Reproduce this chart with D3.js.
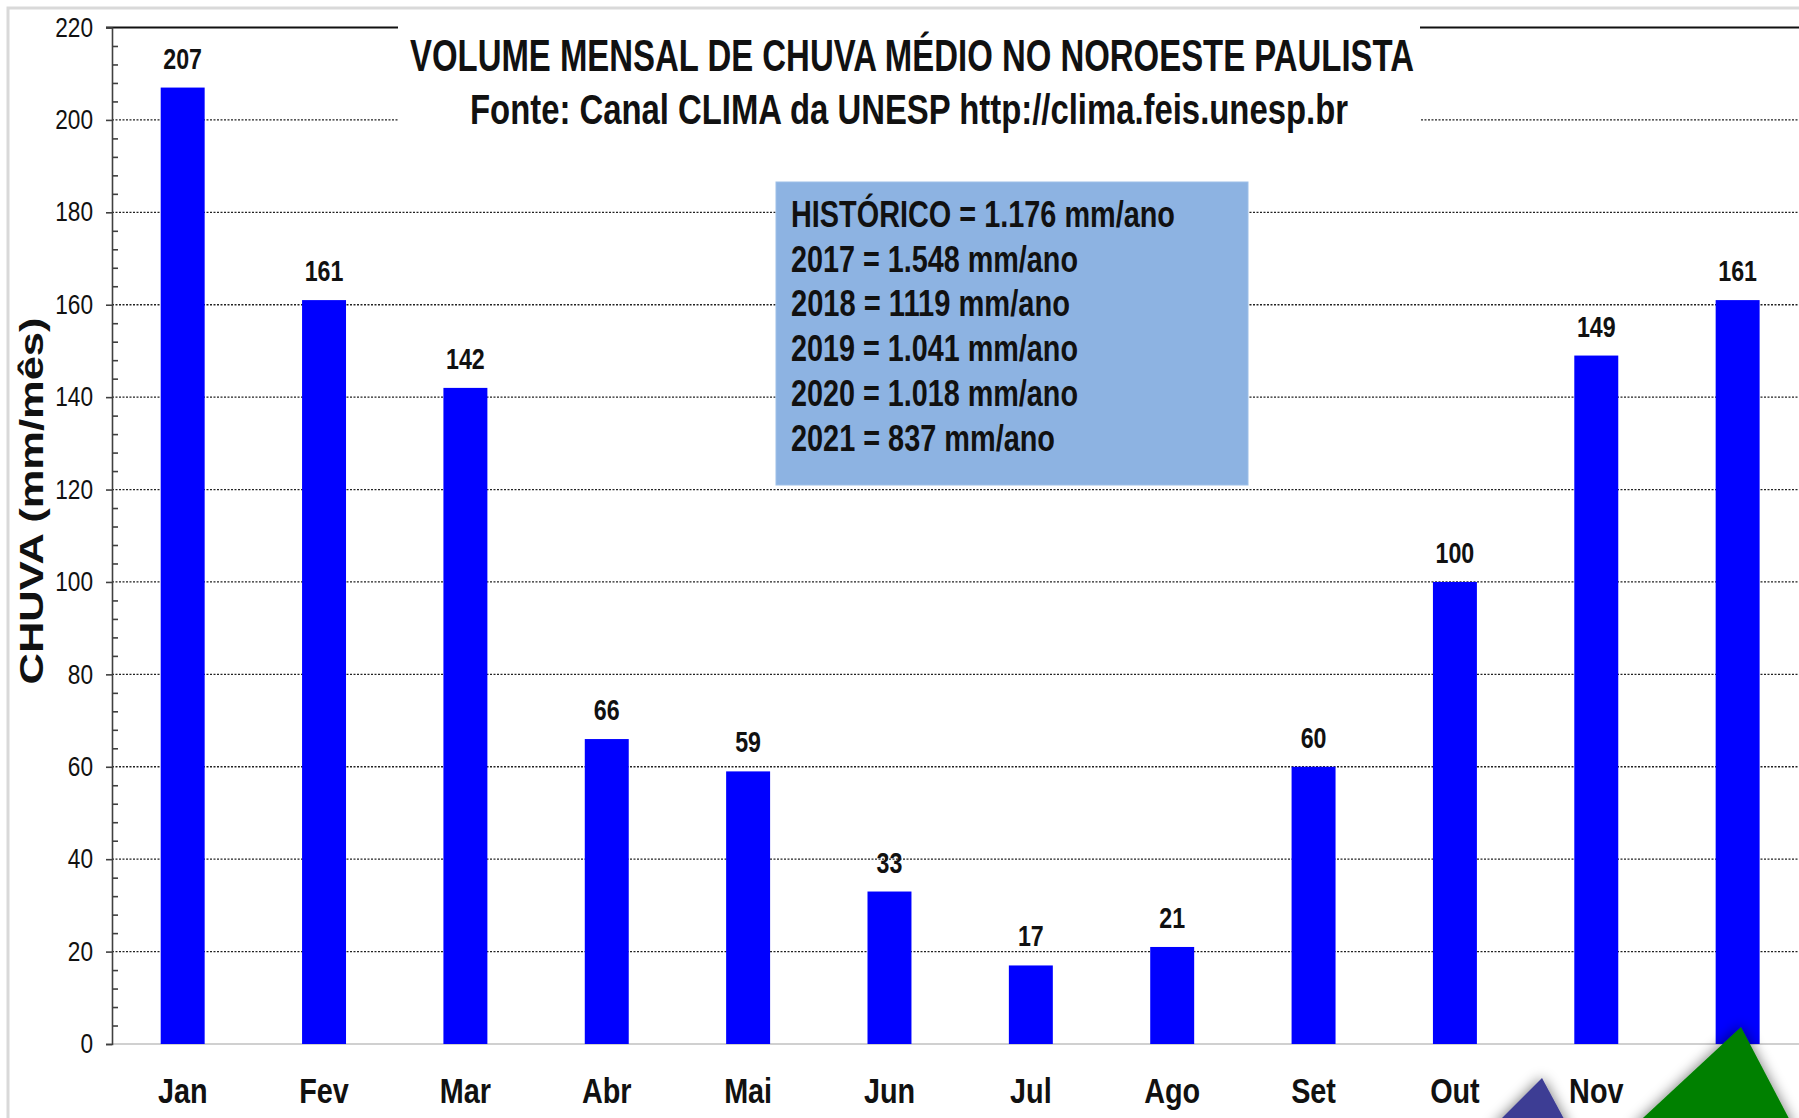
<!DOCTYPE html>
<html>
<head>
<meta charset="utf-8">
<script src="https://cdn.jsdelivr.net/npm/d3@7"></script>
<style>
  body { margin: 0; background: #fff; overflow: hidden; }
  .narrow { font-family: "Liberation Sans Narrow", "Arial Narrow", "Liberation Sans", Arial, sans-serif; }
</style>
</head>
<body>
<div id="chart"></div>
<script>
const months = ["Jan", "Fev", "Mar", "Abr", "Mai", "Jun", "Jul", "Ago", "Set", "Out", "Nov", "Dez"];
const monthLabels = ["Jan", "Fev", "Mar", "Abr", "Mai", "Jun", "Jul", "Ago", "Set", "Out", "Nov", ""];
const rain = [207, 161, 142, 66, 59, 33, 17, 21, 60, 100, 149, 161];
const yTicks = [0, 20, 40, 60, 80, 100, 120, 140, 160, 180, 200, 220];
const infoLines = [
  "HISTÓRICO = 1.176 mm/ano",
  "2017 = 1.548 mm/ano",
  "2018 = 1119 mm/ano",
  "2019 = 1.041 mm/ano",
  "2020 = 1.018 mm/ano",
  "2021 = 837 mm/ano"
];
const infoWidths = [384, 287, 279, 287, 287, 264];

const W = 1799, H = 1118;

//plot dimensions
const pLeft = 112;
const pTop = 27.5;
const pBottom = 1044;
const step = 141.36;
const pRight = pLeft + step * 12;
const squeeze = 0.8; //narrow look, no condensed font installed

const svg = d3.select("#chart")
  .append("svg")
  .attr("width", W)
  .attr("height", H);

//shadow for the corner triangles
const defs = svg.append("defs");
const f = defs.append("filter").attr("id", "shadow")
  .attr("x", "-30%").attr("y", "-30%").attr("width", "160%").attr("height", "160%");
f.append("feGaussianBlur").attr("in", "SourceAlpha").attr("stdDeviation", 7).attr("result", "b");
f.append("feComponentTransfer").attr("in", "b").attr("result", "s")
  .append("feFuncA").attr("type", "linear").attr("slope", 0.55);
const fm = f.append("feMerge");
fm.append("feMergeNode").attr("in", "s");
fm.append("feMergeNode").attr("in", "SourceGraphic");

//outer frame
svg.append("path")
  .attr("d", `M8,${H} L8,8 L${W},8`)
  .attr("fill", "none")
  .attr("stroke", "#d9d9d9")
  .attr("stroke-width", 3);

const x = d3.scaleBand()
  .domain(months)
  .range([pLeft, pRight])
  .paddingInner(0.689)
  .paddingOuter(0.3445);

const y = d3.scaleLinear()
  .domain([0, 220])
  .range([pBottom, pTop]);

//grid lines
svg.append("g")
  .selectAll("line")
  .data(yTicks.filter((d) => d > 0 && d < 220))
  .join("line")
  .attr("x1", pLeft)
  .attr("x2", W)
  .attr("y1", (d) => y(d))
  .attr("y2", (d) => y(d))
  .attr("stroke", "#222")
  .attr("stroke-width", 1.3)
  .attr("stroke-dasharray", "2,1.5");

//top solid line
svg.append("line")
  .attr("x1", pLeft - 6).attr("x2", W)
  .attr("y1", y(220)).attr("y2", y(220))
  .attr("stroke", "#111").attr("stroke-width", 2);

//baseline
svg.append("line")
  .attr("x1", pLeft).attr("x2", W)
  .attr("y1", y(0)).attr("y2", y(0))
  .attr("stroke", "#d0d0d0").attr("stroke-width", 2);

//white area behind the title
svg.append("rect")
  .attr("x", 398).attr("y", 14)
  .attr("width", 1420 - 398).attr("height", 112)
  .attr("fill", "#fff");

//bars
svg.append("g")
  .selectAll("rect")
  .data(rain)
  .join("rect")
  .attr("x", (d, i) => x(months[i]))
  .attr("y", (d) => y(d))
  .attr("width", x.bandwidth())
  .attr("height", (d) => y(0) - y(d))
  .attr("fill", "#0000ff");

//value labels
svg.append("g")
  .selectAll("text")
  .data(rain)
  .join("text")
  .attr("class", "narrow")
  .attr("transform", (d, i) => `translate(${x(months[i]) + x.bandwidth() / 2},${y(d) - 19}) scale(${squeeze},1)`)
  .attr("text-anchor", "middle")
  .attr("font-size", 29)
  .attr("font-weight", "bold")
  .attr("fill", "#111")
  .text((d) => d);

//y axis with major ticks
const yAxis = svg.append("g")
  .attr("transform", `translate(${pLeft},0)`)
  .call(d3.axisLeft(y).tickValues(yTicks).tickSize(6));
yAxis.select(".domain").attr("stroke", "#404040").attr("stroke-width", 1.6);
yAxis.selectAll(".tick line").attr("stroke", "#404040").attr("stroke-width", 1.6);
yAxis.selectAll(".tick text")
  .attr("class", "narrow")
  .attr("x", null)
  .attr("transform", `translate(-19,0) scale(${squeeze + 0.04},1)`)
  .attr("font-size", 27)
  .attr("fill", "#111");

//minor ticks
const minor = d3.range(0, 221, 4).filter((d) => d % 20 !== 0);
svg.append("g")
  .attr("transform", `translate(${pLeft},0)`)
  .call(d3.axisLeft(y).tickValues(minor).tickSize(-6).tickFormat(""))
  .call((g) => g.select(".domain").remove())
  .selectAll(".tick line")
  .attr("stroke", "#404040")
  .attr("stroke-width", 1.6);

//x axis labels
svg.append("g")
  .selectAll("text")
  .data(months)
  .join("text")
  .attr("class", "narrow")
  .attr("transform", (d) => `translate(${x(d) + x.bandwidth() / 2},1103) scale(${squeeze},1)`)
  .attr("text-anchor", "middle")
  .attr("font-size", 36)
  .attr("font-weight", "bold")
  .attr("fill", "#111")
  .text((d, i) => monthLabels[i]);

//y axis title
svg.append("text")
  .attr("transform", `translate(43,${501}) rotate(-90)`)
  .attr("text-anchor", "middle")
  .attr("font-family", "Liberation Sans, Arial, sans-serif")
  .attr("font-size", 34)
  .attr("font-weight", "bold")
  .attr("textLength", 367)
  .attr("lengthAdjust", "spacingAndGlyphs")
  .attr("fill", "#111")
  .text("CHUVA  (mm/mês)");

//title
svg.append("text")
  .attr("class", "narrow")
  .attr("x", 410).attr("y", 71)
  .attr("font-size", 44)
  .attr("font-weight", "bold")
  .attr("textLength", 1004)
  .attr("lengthAdjust", "spacingAndGlyphs")
  .attr("fill", "#111")
  .text("VOLUME MENSAL DE CHUVA MÉDIO NO NOROESTE PAULISTA");

svg.append("text")
  .attr("class", "narrow")
  .attr("x", 470).attr("y", 124)
  .attr("font-size", 42)
  .attr("font-weight", "bold")
  .attr("textLength", 878)
  .attr("lengthAdjust", "spacingAndGlyphs")
  .attr("fill", "#111")
  .text("Fonte: Canal CLIMA da UNESP http://clima.feis.unesp.br");

//info box
svg.append("rect")
  .attr("x", 776).attr("y", 182)
  .attr("width", 472).attr("height", 303)
  .attr("fill", "#8db3e2")
  .attr("stroke", "#9dbfe8")
  .attr("stroke-width", 1);

svg.append("g")
  .selectAll("text")
  .data(infoLines)
  .join("text")
  .attr("class", "narrow")
  .attr("x", 791)
  .attr("y", (d, i) => 227 + i * 44.7)
  .attr("font-size", 37)
  .attr("font-weight", "bold")
  .attr("textLength", (d, i) => infoWidths[i])
  .attr("lengthAdjust", "spacingAndGlyphs")
  .attr("fill", "#111")
  .text((d) => d);

//corner triangles
svg.append("polygon")
  .attr("points", "1542,1078 1490,1130 1570,1130")
  .attr("fill", "#3d3d94")
  .attr("filter", "url(#shadow)");
svg.append("polygon")
  .attr("points", "1741,1027 1630,1130 1795,1130")
  .attr("fill", "#008000")
  .attr("filter", "url(#shadow)");
</script>
</body>
</html>
